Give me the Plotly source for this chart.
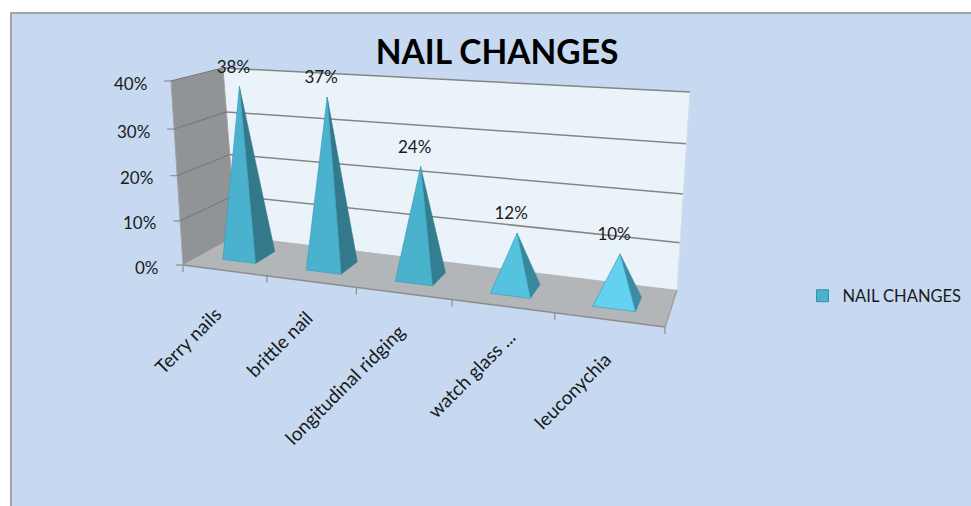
import plotly.graph_objects as go

categories = ["Terry nails", "brittle nail", "longitudinal ridging", "watch glass ...", "leuconychia"]
values = [38, 37, 24, 12, 10]
y_ticks = [0, 10, 20, 30, 40]
title_text = "NAIL CHANGES"
series_name = "NAIL CHANGES"

FONT = "Lato, Carlito, Calibri, sans-serif"
BG = "#C6D9F1"
FRONT_COL = ["#4AB2CE", "#4AB2CE", "#49B2CC", "#55C3E0", "#63D2F0"]
SIDE_COL = ["#33798C", "#33798C", "#337F92", "#38889C", "#3A8CA2"]
YMAX = 40.0

# pixel corners of the 3-D box: (u, v, w) = (along categories, height, depth)
C = {
    (0, 0, 0): (183, 265), (1, 0, 0): (665, 327),
    (0, 0, 1): (236, 236), (1, 0, 1): (677, 290),
    (0, 1, 0): (171, 81),  (1, 1, 0): (682, 118),
    (0, 1, 1): (223, 68),  (1, 1, 1): (690, 92),
}
PERSP_U = 0.843
PERSP_V = 0.943


def project(u, val, w):
    f = val / YMAX
    s = u * PERSP_U / (u * PERSP_U + (1 - u))
    v = f * PERSP_V / (f * PERSP_V + (1 - f)) if f < 1 else 1.0
    pt = [0.0, 0.0]
    for (a, b, c), (px, py) in C.items():
        k = (s if a else 1 - s) * (v if b else 1 - v) * (w if c else 1 - w)
        pt[0] += k * px
        pt[1] += k * py
    return pt


def poly(points, fill, line=None, lw=0.0):
    xs = [p[0] for p in points] + [points[0][0]]
    ys = [p[1] for p in points] + [points[0][1]]
    return go.Scatter(x=xs, y=ys, mode="lines", fill="toself", fillcolor=fill,
                      line=dict(color=line or fill, width=lw), hoverinfo="skip", showlegend=False)


def seg(a, b, color="#8C8C8C", lw=1.5):
    return go.Scatter(x=[a[0], b[0]], y=[a[1], b[1]], mode="lines",
                      line=dict(color=color, width=lw), hoverinfo="skip", showlegend=False)


fig = go.Figure()

# walls and floor
fig.add_trace(poly([project(0, 0, 1), project(0, YMAX, 1), project(1, YMAX, 1), project(1, 0, 1)], "#EBF3FA"))
fig.add_trace(poly([project(0, 0, 0), project(0, YMAX, 0), project(0, YMAX, 1), project(0, 0, 1)], "#909496", "#A0A2A4", 1))
fig.add_trace(poly([project(0, 0, 0), project(0, 0, 1), project(1, 0, 1), project(1, 0, 0)], "#B3B6B8"))

# gridlines and value ticks
for t in y_ticks:
    if t > 0:
        fig.add_trace(seg(project(0, t, 0), project(0, t, 1), "#77797B", 1.2))
        fig.add_trace(seg(project(0, t, 1), project(1, t, 1), "#858585", 1.5))
    p = project(0, t, 0)
    fig.add_trace(seg((p[0] - 7, p[1]), p, "#8C8C8C", 1.2))
fig.add_trace(seg(project(0, 0, 0), project(1, 0, 0), "#8C8C8C", 1.5))
fig.add_trace(seg(project(1, 0, 0), project(1, 0, 1), "#9A9A9A", 1.2))
fig.add_trace(seg(project(1, 0, 1), project(1, YMAX, 1), "#D5DEE8", 1))

# category ticks
n = len(categories)
for i in range(n + 1):
    p = project(i / n, 0, 0)
    fig.add_trace(seg(p, (p[0], p[1] + 7), "#8C8C8C", 1.2))

# pyramids
BAR = 0.4
W0, W1 = 0.3, 0.7
for i, val in enumerate(values):
    c = (i + 0.5) / n
    du = BAR / n / 2
    fl = project(c - du, 0, W0)
    fr = project(c + du, 0, W0)
    br = project(c + du, 0, W1)
    apex = project(c, val, 0.5)
    fig.add_trace(poly([fr, br, apex], SIDE_COL[i], SIDE_COL[i], 0.5))
    fig.add_trace(poly([fl, fr, apex], FRONT_COL[i], "#3F9FB8", 0.7))

# data labels
label_pts = [project((i + 0.5) / n, v, 0.5) for i, v in enumerate(values)]
fig.add_trace(go.Scatter(
    x=[p[0] - 6 for p in label_pts], y=[p[1] - 18 for p in label_pts],
    mode="text", text=[f"{v}%" for v in values], textposition="middle center",
    textfont=dict(family=FONT, size=17, color="#1A1A1A"), hoverinfo="skip", showlegend=False))

# legend entry
fig.add_trace(go.Scatter(x=[None], y=[None], mode="markers", name=series_name,
                         marker=dict(symbol="square", size=12, color="#4AB2CE",
                                     line=dict(color="#3A8CA2", width=1))))

annotations = []
for t in y_ticks:
    p = project(0, t, 0)
    annotations.append(dict(x=p[0] - 22, y=p[1] + 2, xref="x", yref="y", text=f"{t}%",
                            showarrow=False, xanchor="right", yanchor="middle",
                            font=dict(family=FONT, size=17, color="#1A1A1A")))

label_nudge = [(4, 30), (9, 21), (8, 24), (20, 16), (9, 25)]
for i, name in enumerate(categories):
    p = project((i + 0.5) / n, 0, 0)
    annotations.append(dict(x=p[0] + label_nudge[i][0], y=p[1] + label_nudge[i][1], xref="x", yref="y",
                            text=name, showarrow=False, textangle=-45, xanchor="right", yanchor="top",
                            font=dict(family=FONT, size=19, color="#1A1A1A")))

fig.update_layout(
    width=971, height=506, margin=dict(l=0, r=0, t=0, b=0),
    paper_bgcolor="white", plot_bgcolor="rgba(0,0,0,0)",
    xaxis=dict(range=[0, 971], visible=False, fixedrange=True),
    yaxis=dict(range=[506, 0], visible=False, fixedrange=True),
    title=dict(text=f"<b>{title_text}</b>", x=497 / 971, xanchor="center", y=1 - 52 / 506, yanchor="middle",
               font=dict(family=FONT, size=33.5, color="#000000")),
    legend=dict(x=802.5 / 971, y=1 - 296 / 506, xanchor="left", yanchor="middle",
                bgcolor="rgba(0,0,0,0)", font=dict(family=FONT, size=16.5, color="#1A1A1A"),
                itemwidth=30),
    annotations=annotations,
    shapes=[dict(type="rect", xref="x", yref="y", x0=11, y0=13, x1=975, y1=510,
                 fillcolor=BG, line=dict(color="#A3A3A3", width=2), layer="below")],
)

fig.write_html("out.html", config={"displayModeBar": False}, post_script="document.body.style.margin='0';")
